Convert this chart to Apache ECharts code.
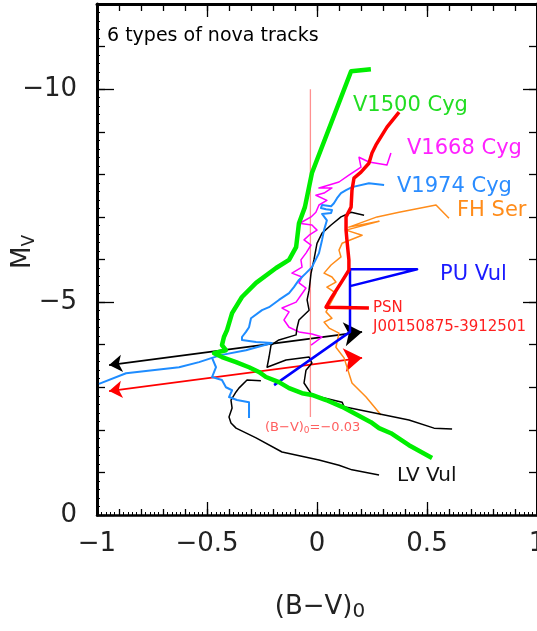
<!DOCTYPE html>
<html>
<head>
<meta charset="utf-8">
<script src="https://cdn.jsdelivr.net/npm/echarts@6/dist/echarts.min.js"></script>
<style>
html,body{margin:0;padding:0;background:#fff;}
#main{width:537px;height:631px;}
</style>
</head>
<body>
<div id="main"></div>
<script>
// tracks: [ (B-V)0 , Mv ]
var v1500Cyg = [[0.245,-10.47],[0.155,-10.42],[-0.023,-8.03],[-0.055,-7.23],[-0.082,-6.85],[-0.095,-6.29],[-0.127,-5.99],[-0.186,-5.80],[-0.277,-5.45],[-0.341,-5.12],[-0.386,-4.74],[-0.409,-4.34],[-0.423,-4.18],[-0.432,-3.99],[-0.414,-3.87],[-0.468,-3.80],[-0.432,-3.71],[-0.368,-3.59],[-0.309,-3.47],[-0.264,-3.36],[-0.232,-3.24],[-0.173,-3.12],[-0.127,-2.98],[-0.068,-2.86],[-0.023,-2.82],[0.041,-2.70],[0.114,-2.54],[0.245,-2.18],[0.282,-2.04],[0.336,-1.92],[0.418,-1.64],[0.523,-1.34]];
var psnTrack = [[0.373,-9.46],[0.318,-9.11],[0.268,-8.69],[0.25,-8.50],[0.236,-8.26],[0.20,-8.05],[0.168,-7.91],[0.159,-7.63],[0.155,-7.23],[0.132,-7.00],[0.132,-6.69],[0.136,-6.46],[0.145,-5.99],[0.145,-5.75],[0.109,-5.45],[0.068,-5.12],[0.041,-4.88],[0.236,-4.86]];
var puVul = [[0.155,-5.38],[0.455,-5.77],[0.15,-5.77],[0.15,-4.30],[-0.195,-3.05]];
var v1974Cyg = [[0.305,-7.75],[0.236,-7.79],[0.159,-7.70],[0.132,-7.63],[0.109,-7.56],[0.091,-7.44],[0.077,-7.32],[0.064,-7.25],[0.023,-7.28],[0.018,-7.21],[0.041,-7.18],[0.068,-7.16],[0.064,-7.09],[0.023,-7.07],[0.045,-6.92],[0.032,-6.69],[0.023,-6.46],[0.009,-6.15],[-0.023,-5.82],[-0.05,-5.68],[-0.082,-5.52],[-0.105,-5.35],[-0.127,-5.21],[-0.173,-5.05],[-0.218,-4.88],[-0.25,-4.81],[-0.30,-4.62],[-0.309,-4.41],[-0.323,-4.30],[-0.341,-4.18],[-0.341,-4.11],[-0.277,-4.06],[-0.205,-4.04],[-0.323,-3.87],[-0.432,-3.76],[-0.477,-3.69],[-0.536,-3.59],[-0.627,-3.47],[-0.868,-3.33],[-0.991,-3.08]];
var v1974CygLate = [[-0.477,-3.69],[-0.459,-3.47],[-0.477,-3.24],[-0.432,-3.17],[-0.414,-3.00],[-0.386,-2.93],[-0.40,-2.77],[-0.364,-2.70],[-0.309,-2.65],[-0.309,-2.28]];
var v1668Cyg = [[0.336,-8.50],[0.318,-8.22],[0.236,-8.29],[0.191,-8.40],[0.20,-8.17],[0.145,-7.98],[0.10,-7.82],[0.055,-7.75],[0.009,-7.68],[0.068,-7.68],[0.032,-7.56],[-0.005,-7.51],[0.045,-7.39],[0.009,-7.28],[-0.005,-7.11],[-0.027,-7.00],[-0.068,-6.88],[-0.082,-6.85],[-0.023,-6.81],[0.0,-6.69],[-0.036,-6.57],[-0.059,-6.46],[-0.027,-6.34],[-0.05,-6.15],[-0.073,-5.99],[-0.068,-5.82],[-0.114,-5.68],[-0.068,-5.59],[-0.082,-5.45],[-0.05,-5.33],[-0.073,-5.16],[-0.095,-5.00],[-0.159,-4.86],[-0.127,-4.77],[-0.15,-4.58],[-0.127,-4.41],[-0.082,-4.30],[-0.023,-4.25],[0.023,-4.18],[-0.027,-3.99]];
var lvVul = [[0.214,-7.04],[0.155,-7.11],[0.109,-7.00],[0.064,-6.81],[0.023,-6.62],[0.0,-6.38],[-0.014,-5.99],[-0.027,-5.68],[-0.036,-5.28],[-0.045,-5.05],[-0.036,-4.81],[-0.068,-4.65],[-0.082,-4.58],[-0.091,-4.39],[-0.095,-4.23],[-0.173,-4.11],[-0.209,-3.99],[-0.218,-3.71],[-0.227,-3.47],[-0.141,-3.64],[-0.036,-3.71],[-0.023,-3.57],[-0.05,-3.40],[-0.059,-3.10],[-0.023,-2.82],[0.114,-2.65],[0.123,-2.54],[0.268,-2.39],[0.418,-2.23],[0.532,-2.04],[0.614,-2.02]];
var lvVulLate = [[-0.255,-3.15],[-0.318,-3.17],[-0.355,-2.98],[-0.368,-2.89],[-0.391,-2.70],[-0.386,-2.51],[-0.40,-2.30],[-0.391,-2.16],[-0.368,-2.04],[-0.277,-1.81],[-0.159,-1.48],[0.009,-1.29],[0.10,-1.17],[0.159,-1.06],[0.282,-0.94]];
var fhSer = [[0.60,-6.97],[0.541,-7.28],[0.373,-7.11],[0.273,-7.00],[0.145,-6.76],[0.282,-6.90],[0.132,-6.69],[0.205,-6.57],[0.114,-6.38],[0.10,-6.22],[0.109,-6.06],[0.064,-5.87],[0.032,-5.68],[0.068,-5.59],[0.086,-5.47],[0.045,-5.35],[0.086,-5.21],[0.064,-5.00],[0.041,-4.77],[0.068,-4.62],[0.032,-4.53],[0.055,-4.39],[0.10,-4.27],[0.086,-3.94],[0.123,-3.69],[0.159,-3.10],[0.223,-2.77],[0.291,-2.35]];
var blackArrow = [[-0.945,-3.52],[0.205,-4.30]];
var redArrow = [[-0.945,-2.91],[0.205,-3.69]];
var bvLine = [[-0.03,-10],[-0.03,-2.3]];
var xLabelStep = 0.5;
var yLabelValues = [-10,-5,0];

var FONT = 'DejaVu Sans';
var myChart = echarts.init(document.getElementById('main'));

function minus(v){
    return String(v).replace('-', '\u2212');
}
function track(data, color, width){
    return {
        type: 'line', data: data, xAxisIndex: 0, yAxisIndex: 0,
        symbol: 'none', silent: true, animation: false,
        lineStyle: {color: color, width: width, join: 'round'}
    };
}
function arrow(data, color){
    return {
        type: 'lines', coordinateSystem: 'cartesian2d', xAxisIndex: 0, yAxisIndex: 0,
        silent: true, animation: false,
        symbol: ['arrow','arrow'], symbolSize: [13,18],
        lineStyle: {color: color, width: 1.8, opacity: 1},
        data: [{coords: data}]
    };
}
function xAx(grid, pos, interval, len, lineW, minor, label){
    return {
        type: 'value', gridIndex: grid, position: pos, min: -1, max: 1, interval: interval,
        axisLine: {show: lineW > 0, onZero: false, lineStyle: {color: '#000', width: lineW}},
        axisTick: {show: true, inside: true, length: len, lineStyle: {color: '#000', width: 1.3}},
        minorTick: {show: minor, splitNumber: 5, length: 3, lineStyle: {color: '#000', width: 1}},
        axisLabel: {show: label, formatter: minus, fontSize: 26, fontFamily: FONT, color: '#222', margin: 16},
        splitLine: {show: false}
    };
}
function yAx(grid, pos, ticks, len, lineW, minor, label){
    var a = {
        type: 'value', gridIndex: grid, position: pos, inverse: true, min: -12, max: 0,
        axisLine: {show: lineW > 0, onZero: false, lineStyle: {color: '#000', width: lineW}},
        axisTick: {show: true, inside: true, length: len, lineStyle: {color: '#000', width: 1.3}},
        minorTick: {show: minor, splitNumber: 5, length: 3, lineStyle: {color: '#000', width: 1}},
        axisLabel: {show: label, formatter: minus, fontSize: 26, fontFamily: FONT, color: '#222', margin: 20},
        splitLine: {show: false}
    };
    if (ticks) {
        a.axisTick.customValues = ticks;
        a.axisLabel.customValues = ticks;
    } else {
        a.interval = 1;
    }
    return a;
}
function txt(x, y, text, size, color){
    return {
        type: 'text', x: x, y: y, silent: true,
        style: {text: text, fontSize: size, fontFamily: FONT, fill: color, textVerticalAlign: 'middle'}
    };
}

var gridBox = {left: 97, right: 0, top: 4, bottom: 116, containLabel: false, outerBoundsMode: 'none'};
var option = {
    backgroundColor: '#fff',
    animation: false,
    grid: [gridBox, gridBox, gridBox, gridBox].map(function(g){ return Object.assign({}, g); }),
    xAxis: [
        xAx(0, 'bottom', xLabelStep, 13, 2.5, false, true),
        xAx(1, 'bottom', 0.1, 6, 0, true, false),
        xAx(2, 'top', xLabelStep, 13, 3, false, false),
        xAx(3, 'top', 0.1, 7, 0, false, false)
    ],
    yAxis: [
        yAx(0, 'left', yLabelValues, 17, 3, false, true),
        yAx(1, 'left', null, 8, 0, true, false),
        yAx(2, 'right', [-10,-5], 14, 3, false, false),
        yAx(3, 'right', null, 8, 0, false, false)
    ],
    series: [
        track(bvLine, '#ff9090', 1.3),
        track(fhSer, '#ff8c1a', 1.5),
        track(v1668Cyg, '#ff00ff', 1.5),
        track(lvVul, '#000000', 1.5),
        track(lvVulLate, '#000000', 1.5),
        track(v1974Cyg, '#1e8cff', 2),
        track(v1974CygLate, '#1e8cff', 2),
        track(puVul, '#0000ff', 2.5),
        track(v1500Cyg, '#00ee00', 4.5),
        track(psnTrack, '#ff0000', 3.5),
        arrow(blackArrow, '#000000'),
        arrow(redArrow, '#ff0000')
    ],
    graphic: [
        txt(107, 36, '6 types of nova tracks', 19, '#000'),
        txt(353, 106, 'V1500 Cyg', 21, '#22dd22'),
        txt(407, 149, 'V1668 Cyg', 21, '#ff22ff'),
        txt(397, 187, 'V1974 Cyg', 21, '#2a8cff'),
        txt(457, 211, 'FH Ser', 21, '#ff8c1a'),
        txt(440, 275, 'PU Vul', 21, '#1a1aff'),
        txt(373, 308, 'PSN', 15, '#ff2020'),
        txt(373, 327, 'J00150875-3912501', 15, '#ff2020'),
        txt(397, 476, 'LV Vul', 20, '#111'),
        {
            type: 'text', x: 265, y: 428, silent: true,
            style: {
                text: '{a|(B\u2212V)}{s|0}{a|=\u22120.03}',
                rich: {
                    a: {fontSize: 13, fontFamily: FONT, fill: '#ff6060', lineHeight: 14, verticalAlign: 'top'},
                    s: {fontSize: 9, fontFamily: FONT, fill: '#ff6060', lineHeight: 10, padding: [7,0,0,0], verticalAlign: 'bottom'}
                },
                textVerticalAlign: 'middle'
            }
        },
        {
            type: 'text', x: 320, y: 608, silent: true,
            style: {
                text: '{a|(B\u2212V)}{s|0}',
                rich: {
                    a: {fontSize: 26, fontFamily: FONT, fill: '#222', lineHeight: 28, verticalAlign: 'top'},
                    s: {fontSize: 20, fontFamily: FONT, fill: '#222', lineHeight: 20, padding: [14,0,0,0], verticalAlign: 'bottom'}
                },
                textAlign: 'center', textVerticalAlign: 'middle'
            }
        },
        {
            type: 'text', x: 24, y: 252, rotation: Math.PI / 2, silent: true,
            style: {
                text: '{a|M}{s|V}',
                rich: {
                    a: {fontSize: 26, fontFamily: FONT, fill: '#222', lineHeight: 28, verticalAlign: 'top'},
                    s: {fontSize: 17, fontFamily: FONT, fill: '#222', lineHeight: 17, padding: [14,0,0,0], verticalAlign: 'bottom'}
                },
                textAlign: 'center', textVerticalAlign: 'middle'
            }
        }
    ]
};
myChart.setOption(option);
</script>
</body>
</html>
